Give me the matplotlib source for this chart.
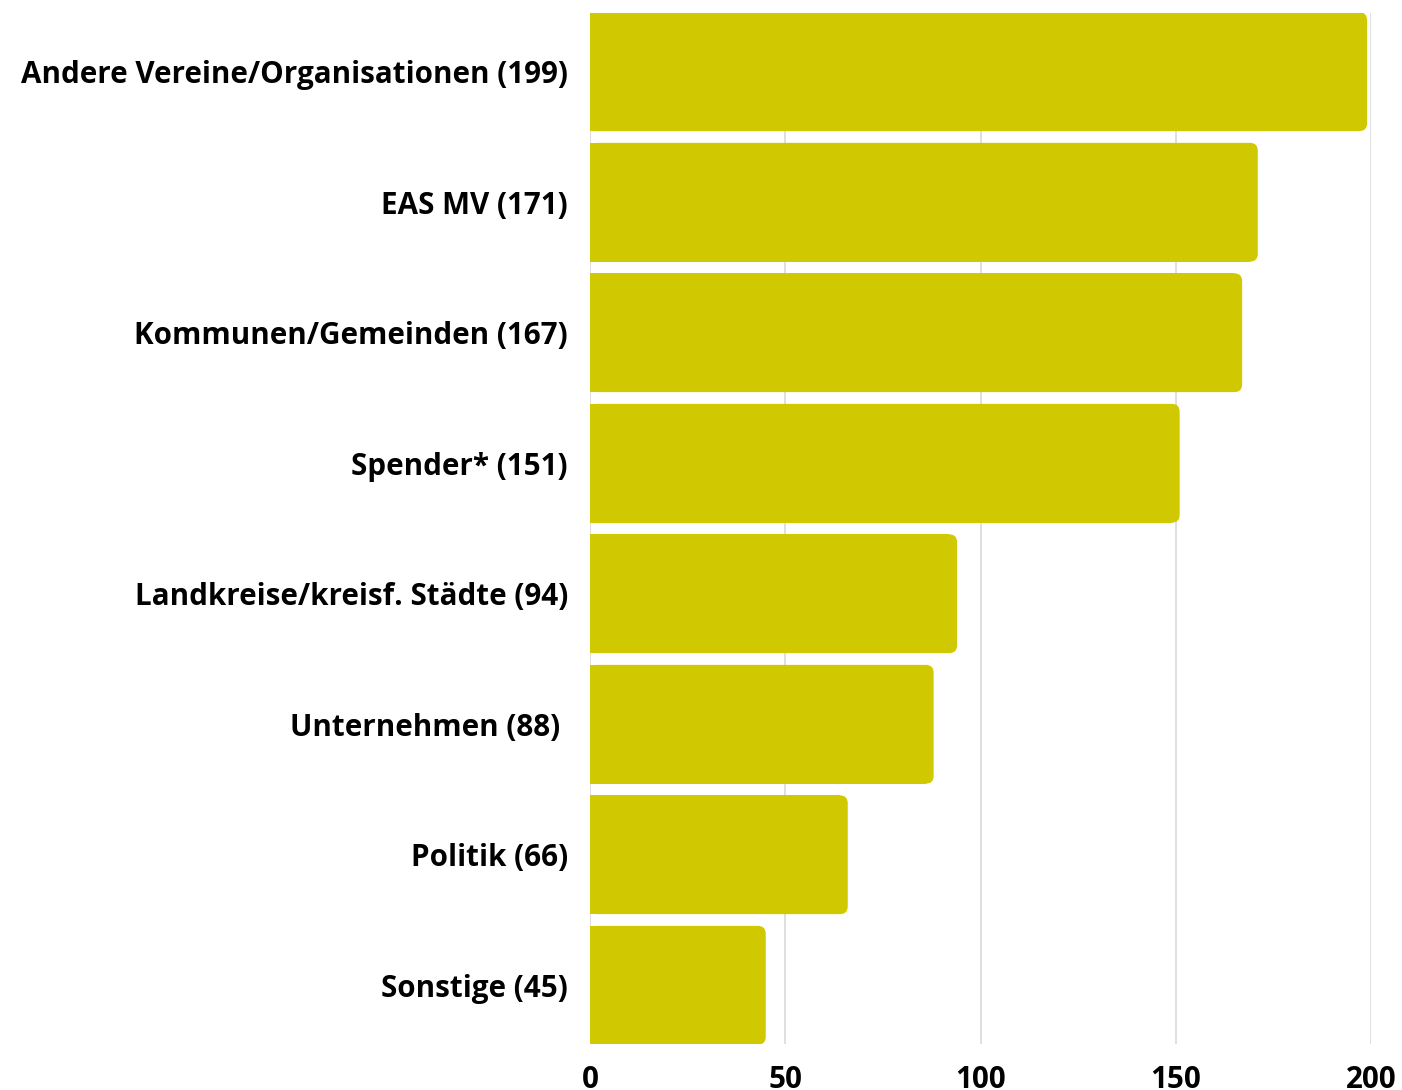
import matplotlib.pyplot as plt
from matplotlib.patches import FancyBboxPatch

plt.rcParams['font.family'] = ['Open Sans', 'DejaVu Sans']

labels = ["Andere Vereine/Organisationen (199)", "EAS MV (171)",
          "Kommunen/Gemeinden (167)", "Spender* (151)",
          "Landkreise/kreisf. Städte (94)", "Unternehmen (88) ",
          "Politik (66)", "Sonstige (45)"]
values = [199, 171, 167, 151, 94, 88, 66, 45]
ticks = [0, 50, 100, 150, 200]

bar_color = "#D0C800"

fig = plt.figure(figsize=(14.02, 10.9), dpi=100)
ax = fig.add_axes([590 / 1402, 1 - 1044 / 1090, 781 / 1402, 1031 / 1090])

ax.set_xlim(0, 200)
ax.set_ylim(len(values) - 0.55, -0.45)

h = 0.91
r = 2.0  # corner radius in x units
# px per unit: x ~ 3.905, y ~ 130.5
aspect = 3.905 / 130.5
for i, v in enumerate(values):
    p = FancyBboxPatch((0, i - h / 2), v, h,
                       boxstyle=f"round,pad=0,rounding_size={r}",
                       mutation_aspect=aspect, facecolor=bar_color,
                       edgecolor="none", zorder=3)
    ax.add_patch(p)
ax.barh(range(len(values)), [v - r for v in values], height=h,
        color=bar_color, zorder=3)

ax.set_yticks(range(len(values)))
ax.set_yticklabels(labels, fontsize=21.3, fontweight="bold")
ax.set_xticks(ticks)
ax.set_xticklabels([str(t) for t in ticks], fontsize=21.3, fontweight="bold")
ax.tick_params(axis="both", length=0)
ax.tick_params(axis="y", pad=16)
ax.tick_params(axis="x", pad=15)

ax.grid(axis="x", color="#d9d9d9", linewidth=1.2, zorder=0)
ax.set_axisbelow(True)
for s in ax.spines.values():
    s.set_visible(False)

fig.savefig("out.png", dpi=100)
